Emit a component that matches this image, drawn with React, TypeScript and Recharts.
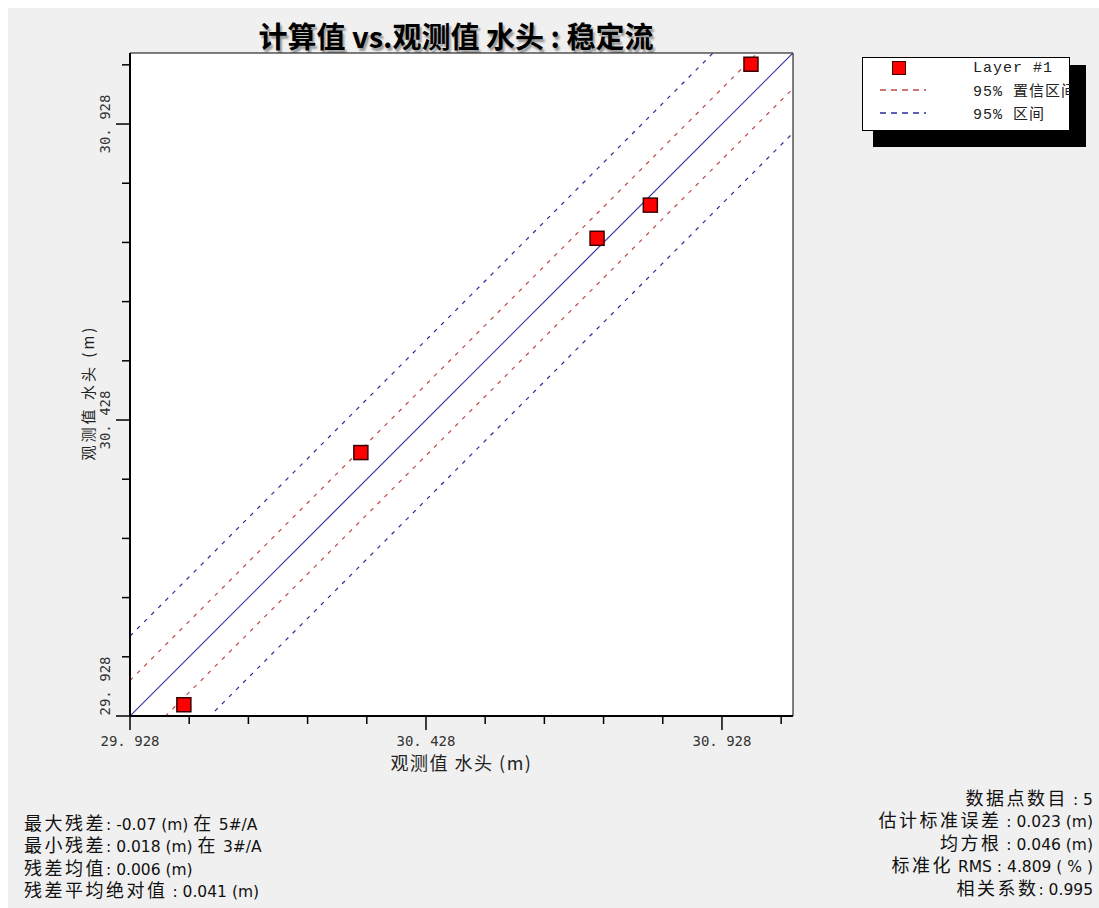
import React from "react"
import { ReferenceArea, ReferenceLine, Scatter, ScatterChart, XAxis, YAxis } from "recharts"

const observed = [30.019, 30.318, 30.717, 30.807, 30.977]
const computed = [29.947, 30.373, 30.735, 30.791, 31.029]

const axisMin = 29.928
const axisMax = 31.048
const axisTicks = [29.928, 30.028, 30.128, 30.228, 30.328, 30.428, 30.528, 30.628, 30.728, 30.828, 30.928, 31.028]
const majorTicks = [29.928, 30.428, 30.928]
const tickLabels = ["29. 928", "30. 428", "30. 928"]

// half-widths of the bands around the 1:1 line
const confidenceOffset = 0.06
const intervalOffset = 0.135

const legendNames = ["Layer #1", "95% 置信区间", "95% 区间"]

const statsLeft = [
  "最大残差: -0.07 (m) 在 5#/A",
  "最小残差: 0.018 (m) 在 3#/A",
  "残差均值: 0.006 (m)",
  "残差平均绝对值 : 0.041 (m)",
]
const statsRight = [
  "数据点数目 : 5",
  "估计标准误差 : 0.023 (m)",
  "均方根 : 0.046 (m)",
  "标准化 RMS : 4.809 ( % )",
  "相关系数: 0.995",
]

const points = observed.map((x, i) => ({ x, y: computed[i] }))

const RED = "#c04848"
const BLUE = "#2a2a9e"
const tickFont = "'DejaVu Sans Mono', monospace"
const cjkFont = "'Noto Sans CJK SC', 'Noto Sans', sans-serif"
const latinFont = "'DejaVu Sans', 'Noto Sans CJK SC', sans-serif"

function labelFor(v: number) {
  const i = majorTicks.findIndex((m) => Math.abs(m - v) < 1e-6)
  return i >= 0 ? tickLabels[i] : null
}

// CJK runs a bit larger than the latin runs, like the original UI font mix
function Mixed({ text }: { text: string }) {
  const parts = text.split(/([\u4e00-\u9fff]+)/).filter((p) => p.length)
  return (
    <>
      {parts.map((p, i) =>
        /[\u4e00-\u9fff]/.test(p) ? (
          <span key={i} style={{ fontFamily: cjkFont, fontSize: 18, letterSpacing: 2.5, lineHeight: "22px" }}>{p}</span>
        ) : (
          <span key={i} style={{ fontFamily: latinFont, fontSize: 15.5, lineHeight: "22px" }}>{p}</span>
        )
      )}
    </>
  )
}

function XTick(props: any) {
  const { x, y, payload } = props
  const label = labelFor(payload.value)
  return (
    <g>
      <line x1={x} x2={x} y1={y} y2={y + (label ? 14 : 8)} stroke="#000" strokeWidth={1.5} />
      {label && (
        <text x={x} y={y + 25} textAnchor="middle" dominantBaseline="central" fontSize={14} fontFamily={tickFont} fill="#333">
          {label}
        </text>
      )}
    </g>
  )
}

function YTick(props: any) {
  const { x, y, payload } = props
  const label = labelFor(payload.value)
  // the bottom label is pushed up so it stays inside the axis
  const cy = payload.value === axisMin ? y - 30 : y
  const cx = x - 25
  return (
    <g>
      <line x1={x} x2={x - (label ? 14 : 8)} y1={y} y2={y} stroke="#000" strokeWidth={1.5} />
      {label && (
        <text
          x={cx}
          y={cy}
          transform={`rotate(-90, ${cx}, ${cy})`}
          textAnchor="middle"
          dominantBaseline="central"
          fontSize={14}
          fontFamily={tickFont}
          fill="#333"
        >
          {label}
        </text>
      )}
    </g>
  )
}

function XTitle(props: any) {
  const { viewBox } = props
  return (
    <text
      x={viewBox.x + viewBox.width / 2}
      y={viewBox.y + 46}
      textAnchor="middle"
      dominantBaseline="central"
      fontSize={18}
      letterSpacing={1.5}
      fontFamily={cjkFont}
      fill="#222"
    >
      观测值 水头 (m)
    </text>
  )
}

function YTitle(props: any) {
  const { viewBox } = props
  const cx = 79
  const cy = viewBox.y + viewBox.height / 2 + 8
  return (
    <text
      x={cx}
      y={cy}
      transform={`rotate(-90, ${cx}, ${cy})`}
      textAnchor="middle"
      dominantBaseline="central"
      fontSize={15}
      letterSpacing={3}
      fontFamily={cjkFont}
      fill="#222"
    >
      观测值 水头 (m)
    </text>
  )
}

function SquareMarker(props: any) {
  const { cx, cy } = props
  return <rect x={cx - 7} y={cy - 7} width={14} height={14} fill="#ff0000" stroke="#3a0000" strokeWidth={1.5} />
}

function band(offset: number) {
  return [
    { x: axisMin, y: axisMin + offset },
    { x: axisMax, y: axisMax + offset },
  ]
}

function LegendBox() {
  const rowStyle: React.CSSProperties = { position: "absolute", left: 0, height: 22, width: "100%", display: "flex", alignItems: "center" }
  const textStyle: React.CSSProperties = {
    position: "absolute",
    left: 111,
    fontFamily: "'Liberation Mono', 'Noto Sans CJK SC', monospace",
    fontSize: 15,
    letterSpacing: 1,
    color: "#222",
    whiteSpace: "nowrap",
  }
  const dash = (c: string) => (
    <svg width={46} height={4} style={{ position: "absolute", left: 18 }}>
      <line x1={0} x2={46} y1={2} y2={2} stroke={c} strokeWidth={1.5} strokeDasharray="6 5" />
    </svg>
  )
  return (
    <div style={{ position: "absolute", left: 854, top: 49, width: 208, height: 74 }}>
      <div style={{ position: "absolute", left: 0, top: 0, width: 206, height: 72, background: "#fff", border: "1px solid #000" }} />
      <div style={{ ...rowStyle, top: 0 }}>
        <div style={{ position: "absolute", left: 30, width: 12, height: 12, background: "#ff0000", border: "1.5px solid #3a0000" }} />
        <span style={textStyle}>{legendNames[0]}</span>
      </div>
      <div style={{ ...rowStyle, top: 22 }}>
        {dash(RED)}
        <span style={textStyle}>{legendNames[1]}</span>
      </div>
      <div style={{ ...rowStyle, top: 45 }}>
        {dash(BLUE)}
        <span style={textStyle}>{legendNames[2]}</span>
      </div>
      {/* drop shadow, drawn on top like the original */}
      <div style={{ position: "absolute", left: 208, top: 8, width: 16, height: 82, background: "#000" }} />
      <div style={{ position: "absolute", left: 11, top: 74, width: 213, height: 16, background: "#000" }} />
    </div>
  )
}

export default function App() {
  const statStyle: React.CSSProperties = { lineHeight: "22.4px", color: "#111", whiteSpace: "nowrap" }
  return (
    <div style={{ position: "fixed", left: 8, top: 8, width: 1091, height: 900, background: "#f0f0f0", overflow: "hidden" }}>
      <style>{"html, body { overflow: hidden; }"}</style>
      <div
        style={{
          position: "absolute",
          left: 0,
          width: 896,
          top: 8,
          textAlign: "center",
          fontFamily: cjkFont,
          fontWeight: 700,
          fontSize: 29,
          lineHeight: "38px",
          color: "#000",
          textShadow: "2px 3px 2px #999",
        }}
      >
        计算值 vs.观测值 水头 : 稳定流
      </div>

      <div style={{ position: "absolute", left: 0, top: 0 }}>
        <ScatterChart width={1091} height={900} margin={{ top: 45, right: 306, bottom: 132, left: 0 }}>
          <XAxis
            type="number"
            dataKey="x"
            domain={[axisMin, axisMax]}
            ticks={axisTicks}
            interval={0}
            height={60}
            tickSize={0}
            tickMargin={0}
            tickLine={false}
            tick={<XTick />}
            axisLine={{ stroke: "#000", strokeWidth: 2 }}
            allowDataOverflow
            label={<XTitle />}
          />
          <YAxis
            type="number"
            dataKey="y"
            domain={[axisMin, axisMax]}
            ticks={axisTicks}
            interval={0}
            width={122}
            tickSize={0}
            tickMargin={0}
            tickLine={false}
            tick={<YTick />}
            axisLine={{ stroke: "#000", strokeWidth: 2 }}
            allowDataOverflow
            label={<YTitle />}
          />
          <ReferenceArea x1={axisMin} x2={axisMax} y1={axisMin} y2={axisMax} fill="#fff" fillOpacity={1} stroke="#000" strokeWidth={1} />
          <ReferenceLine segment={band(intervalOffset)} ifOverflow="hidden" stroke={BLUE} strokeWidth={1.2} strokeDasharray="4 6" />
          <ReferenceLine segment={band(confidenceOffset)} ifOverflow="hidden" stroke={RED} strokeWidth={1.2} strokeDasharray="4 6" />
          <ReferenceLine segment={band(0)} ifOverflow="hidden" stroke="#3434a4" strokeWidth={1.2} />
          <ReferenceLine segment={band(-confidenceOffset)} ifOverflow="hidden" stroke={RED} strokeWidth={1.2} strokeDasharray="4 6" />
          <ReferenceLine segment={band(-intervalOffset)} ifOverflow="hidden" stroke={BLUE} strokeWidth={1.2} strokeDasharray="4 6" />
          <Scatter data={points} shape={<SquareMarker />} isAnimationActive={false} />
        </ScatterChart>
      </div>

      <LegendBox />

      <div style={{ ...statStyle, position: "absolute", left: 16, top: 803 }}>
        {statsLeft.map((s) => (
          <div key={s} style={{ height: 22.4 }}><Mixed text={s} /></div>
        ))}
      </div>
      <div style={{ ...statStyle, position: "absolute", right: 6, top: 778, textAlign: "right" }}>
        {statsRight.map((s) => (
          <div key={s} style={{ height: 22.4 }}><Mixed text={s} /></div>
        ))}
      </div>
    </div>
  )
}
